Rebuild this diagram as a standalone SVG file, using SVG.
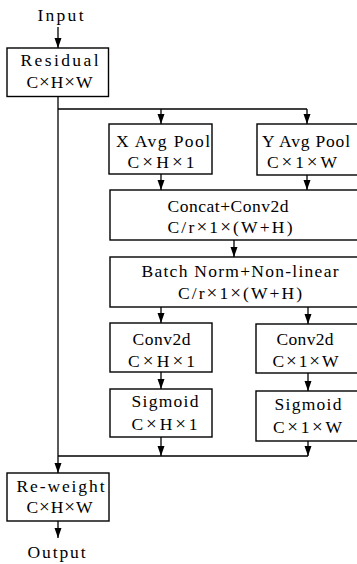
<svg xmlns="http://www.w3.org/2000/svg" width="357" height="564" viewBox="0 0 357 564">
<defs>
<style>
.box{fill:#fff;stroke:#000;stroke-width:1.4}
.ln{fill:none;stroke:#000;stroke-width:1.3}
.ar{fill:none;stroke:#000;stroke-width:1.3;marker-end:url(#ah)}
text{font-family:"Liberation Serif","DejaVu Serif",serif;font-size:17.5px;fill:#000;text-anchor:middle}
.m{font-size:19px}
</style>
<marker id="ah" markerUnits="userSpaceOnUse" markerWidth="10" markerHeight="8" refX="10" refY="4" orient="auto">
<path d="M0,0.5 L10,4 L0,7.5 z" fill="#000"/>
</marker>
</defs>
<rect width="357" height="564" fill="#fff"/>
<g id="connectors">
<line class="ar" x1="58" y1="27" x2="58" y2="48"/>
<line class="ar" x1="58" y1="96.5" x2="58" y2="473"/>
<line class="ln" x1="58" y1="109" x2="307" y2="109"/>
<line class="ar" x1="161" y1="109" x2="161" y2="124"/>
<line class="ar" x1="307" y1="109" x2="307" y2="124"/>
<line class="ar" x1="161" y1="174" x2="161" y2="190"/>
<line class="ar" x1="307" y1="175" x2="307" y2="190"/>
<line class="ar" x1="234" y1="240" x2="234" y2="257"/>
<line class="ar" x1="161" y1="307" x2="161" y2="323"/>
<line class="ar" x1="308" y1="307" x2="308" y2="324"/>
<line class="ar" x1="161" y1="372" x2="161" y2="389"/>
<line class="ar" x1="308" y1="373" x2="308" y2="391"/>
<line class="ar" x1="161" y1="437" x2="161" y2="456"/>
<line class="ar" x1="308" y1="441" x2="308" y2="456"/>
<line class="ln" x1="58" y1="456" x2="308" y2="456"/>
<line class="ar" x1="58" y1="521" x2="58" y2="538"/>
</g>
<g id="input"><text x="60.5" y="21" textLength="46">Input</text></g>
<g id="residual">
<rect class="box" x="7" y="48" width="101.5" height="48.5"/>
<text x="59.5" y="66" textLength="78">Residual</text>
<text x="59.5" y="88" textLength="66">C<tspan class="m">×</tspan>H<tspan class="m">×</tspan>W</text>
</g>
<g id="xpool">
<rect class="box" x="109" y="124" width="103" height="50"/>
<text x="163" y="147" textLength="94">X Avg Pool</text>
<text x="161" y="168" textLength="67">C<tspan class="m">×</tspan>H<tspan class="m">×</tspan>1</text>
</g>
<g id="ypool">
<rect class="box" x="257" y="124" width="104" height="51"/>
<text x="306" y="147" textLength="88">Y Avg Pool</text>
<text x="302" y="168" textLength="70">C<tspan class="m">×</tspan>1<tspan class="m">×</tspan>W</text>
</g>
<g id="concat">
<rect class="box" x="110" y="190" width="251" height="50"/>
<text x="228" y="212" textLength="121">Concat+Conv2d</text>
<text x="230" y="233" textLength="125">C/r<tspan class="m">×</tspan>1<tspan class="m">×</tspan>(W+H)</text>
</g>
<g id="bn">
<rect class="box" x="110" y="257" width="251" height="50"/>
<text x="240" y="277" textLength="197">Batch Norm+Non-linear</text>
<text x="240" y="299" textLength="124">C/r<tspan class="m">×</tspan>1<tspan class="m">×</tspan>(W+H)</text>
</g>
<g id="conv-h">
<rect class="box" x="110" y="323" width="102" height="49"/>
<text x="161.5" y="345" textLength="58">Conv2d</text>
<text x="161.5" y="367" textLength="67">C<tspan class="m">×</tspan>H<tspan class="m">×</tspan>1</text>
</g>
<g id="conv-w">
<rect class="box" x="256" y="324" width="105" height="49"/>
<text x="305" y="345" textLength="57">Conv2d</text>
<text x="305.5" y="367" textLength="66">C<tspan class="m">×</tspan>1<tspan class="m">×</tspan>W</text>
</g>
<g id="sig-h">
<rect class="box" x="110" y="389" width="102" height="48"/>
<text x="165" y="407" textLength="67">Sigmoid</text>
<text x="164.5" y="430" textLength="66">C<tspan class="m">×</tspan>H<tspan class="m">×</tspan>1</text>
</g>
<g id="sig-w">
<rect class="box" x="256" y="391" width="105" height="50"/>
<text x="308" y="410" textLength="67">Sigmoid</text>
<text x="307.5" y="433" textLength="69">C<tspan class="m">×</tspan>1<tspan class="m">×</tspan>W</text>
</g>
<g id="reweight">
<rect class="box" x="7" y="473" width="102" height="48"/>
<text x="60.5" y="492" textLength="88">Re-weight</text>
<text x="59.5" y="513" textLength="66">C<tspan class="m">×</tspan>H<tspan class="m">×</tspan>W</text>
</g>
<g id="output"><text x="56.5" y="558" textLength="58">Output</text></g>
</svg>
